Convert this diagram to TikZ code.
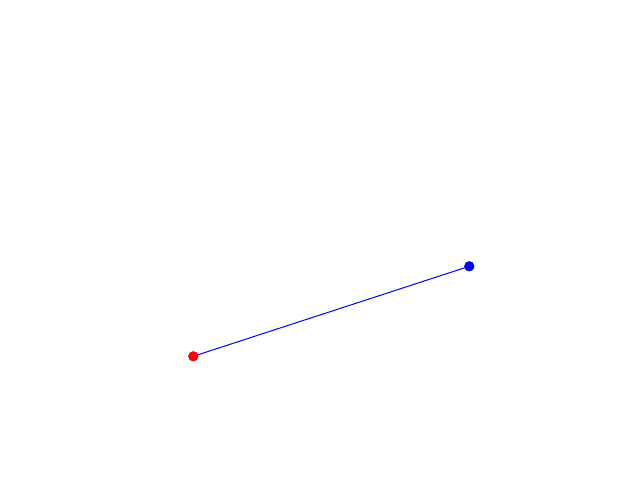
\documentclass[tikz,border=0pt]{standalone}
\begin{document}
\begin{tikzpicture}[x=0.75pt,y=-0.75pt,
  dot/.style={circle,inner sep=0pt,minimum size=7.5pt},
  link/.style={blue,line width=0.75pt}]
\useasboundingbox (0,0) rectangle (640,480);
\node[dot,fill=red] (r) at (193.3,356.3) {};
\node[dot,fill=blue] (b) at (469.3,266.3) {};
\draw[link] (r.center) -- (b.center);
\node[dot,fill=red] at (r) {};
\node[dot,fill=blue] at (b) {};
\end{tikzpicture}
\end{document}
